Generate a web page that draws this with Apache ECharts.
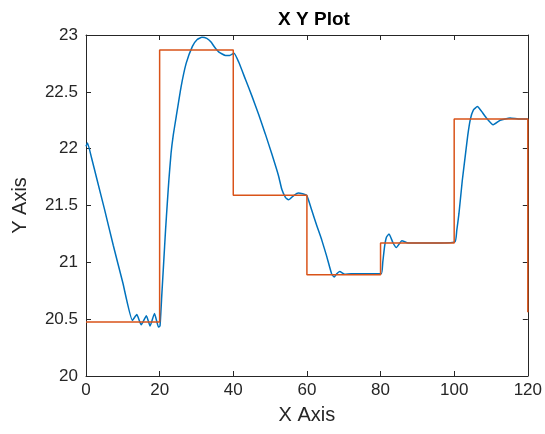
<!DOCTYPE html>
<html>
<head>
<meta charset="utf-8">
<script src="https://cdn.jsdelivr.net/npm/echarts@6/dist/echarts.min.js"></script>
<style>
html,body{margin:0;padding:0;background:#fff;}
#chart{width:545px;height:434px;}
</style>
</head>
<body>
<div id="chart"></div>
<script>
// Blue series (x, y)
const blueX = [0, 0.4, 1.5, 2.9, 5.0, 7.4, 10.0, 12.6, 13.8, 15.0, 16.4, 17.4, 18.6, 19.7, 20.1, 20.6, 21.1, 21.6, 22.1, 22.5, 23.1, 23.7, 24.45, 25.8, 27.2, 28.9, 30.2, 31.5, 32.8, 33.9, 35.0, 36.1, 37.9, 39.0, 40.2, 41.5, 43.3, 45.1, 46.9, 48.7, 50.5, 52.3, 53.2, 54.2, 55.0, 56.5, 57.7, 59.9, 61.3, 62.6, 64.0, 65.4, 66.7, 67.4, 68.1, 68.9, 70.3, 72.0, 76.0, 80.2, 80.6, 81.1, 81.6, 82.3, 83.4, 84.3, 85.8, 87.5, 94.0, 100.2, 100.7, 101.3, 102.2, 103.1, 103.7, 104.4, 105.2, 106.3, 107.4, 108.5, 110.6, 112.5, 115.2, 117.9, 120];
const blueY = [22.02, 22.05, 21.92, 21.74, 21.47, 21.15, 20.82, 20.49, 20.54, 20.45, 20.53, 20.44, 20.55, 20.43, 20.44, 20.72, 21.0, 21.28, 21.53, 21.72, 21.96, 22.12, 22.27, 22.54, 22.75, 22.90, 22.96, 22.98, 22.97, 22.94, 22.89, 22.85, 22.82, 22.82, 22.84, 22.76, 22.61, 22.46, 22.30, 22.13, 21.95, 21.76, 21.64, 21.57, 21.55, 21.59, 21.61, 21.59, 21.46, 21.33, 21.20, 21.05, 20.90, 20.87, 20.90, 20.92, 20.895, 20.90, 20.90, 20.90, 21.0, 21.14, 21.22, 21.25, 21.17, 21.13, 21.19, 21.17, 21.17, 21.18, 21.28, 21.43, 21.72, 21.96, 22.12, 22.26, 22.34, 22.37, 22.33, 22.28, 22.21, 22.25, 22.27, 22.26, 22.26];
// Red step series (x, y)
const redX = [0, 20, 20, 40, 40, 60, 60, 80, 80, 100, 100, 120, 120];
const redY = [20.475, 20.475, 22.867, 22.867, 21.59, 21.59, 20.89, 20.89, 21.17, 21.17, 22.26, 22.26, 20.56];
// Axes
const xTicks = [0, 20, 40, 60, 80, 100, 120];
const yTicks = [20, 20.5, 21, 21.5, 22, 22.5, 23];
const titleText = 'X Y Plot';
const xName = 'X Axis';
const yName = 'Y Axis';

const font = '"Liberation Sans", Arial, Helvetica, sans-serif';
const axisColor = '#262626';
const chart = echarts.init(document.getElementById('chart'), null, {renderer: 'canvas'});
const blueData = blueX.map((x, i) => [x, blueY[i]]);
const redData = redX.map((x, i) => [x, redY[i]]);

function xAxisCfg(pos, show) {
  return {
    type: 'value', position: pos, min: xTicks[0], max: xTicks[xTicks.length - 1], interval: 20,
    axisLine: {show: true, onZero: false, lineStyle: {color: axisColor, width: 1}},
    axisTick: {show: true, inside: true, length: 5, lineStyle: {color: axisColor}},
    axisLabel: {show: show, color: axisColor, fontSize: 17, fontFamily: font, margin: 6},
    splitLine: {show: false},
    name: show ? xName : '', nameLocation: 'middle', nameGap: 29,
    nameTextStyle: {color: axisColor, fontSize: 20, fontFamily: font}
  };
}
function yAxisCfg(pos, show) {
  return {
    type: 'value', position: pos, min: yTicks[0], max: yTicks[yTicks.length - 1], interval: 0.5,
    axisLine: {show: true, onZero: false, lineStyle: {color: axisColor, width: 1}},
    axisTick: {show: true, inside: true, length: 5, lineStyle: {color: axisColor}},
    axisLabel: {show: show, color: axisColor, fontSize: 17, fontFamily: font, margin: 8},
    splitLine: {show: false},
    name: show ? yName : '', nameLocation: 'middle', nameGap: 56,
    nameTextStyle: {color: axisColor, fontSize: 20, fontFamily: font}
  };
}

chart.setOption({
  animation: false,
  backgroundColor: '#fff',
  title: {
    text: titleText, left: 309, top: 5, textAlign: 'center',
    textStyle: {color: '#000', fontSize: 19, fontWeight: 'bold', fontFamily: font}
  },
  grid: {left: 86, right: 14, top: 35, bottom: 58, containLabel: false},
  xAxis: [xAxisCfg('bottom', true), xAxisCfg('top', false)],
  yAxis: [yAxisCfg('left', true), yAxisCfg('right', false)],
  series: [
    {type: 'line', data: blueData, showSymbol: false, smooth: 0.15,
     lineStyle: {color: '#0072BD', width: 1.5}, itemStyle: {color: '#0072BD'}, z: 2},
    {type: 'line', data: redData, showSymbol: false, smooth: false,
     lineStyle: {color: '#D95319', width: 1.5}, itemStyle: {color: '#D95319'}, z: 3}
  ]
});
</script>
</body>
</html>
